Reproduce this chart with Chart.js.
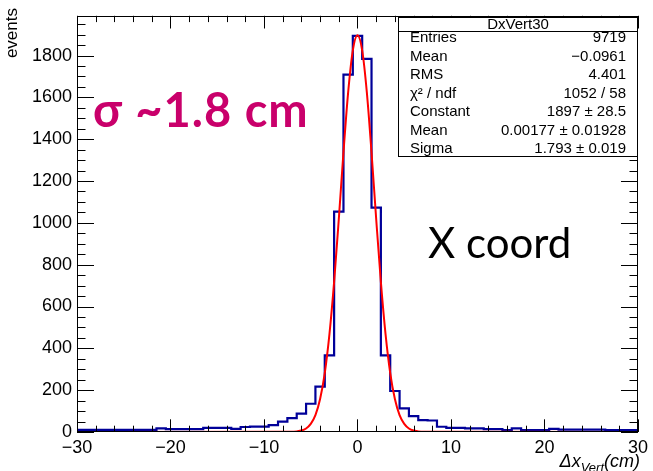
<!DOCTYPE html>
<html>
<head>
<meta charset="utf-8">
<script src="https://cdn.jsdelivr.net/npm/chart.js@4.4.0/dist/chart.umd.min.js"></script>
<style>
  html, body { margin: 0; padding: 0; background: #fff; }
  canvas { display: block; }
</style>
</head>
<body>
<canvas id="chart" width="653" height="471"></canvas>
<script>
// DxVert30 histogram, 1 cm bins centred on integers
const binCenters = Array.from({ length: 61 }, (_, i) => i - 30);
const binCounts = [
  10, 10, 10, 10, 10, 10, 10, 10, 10, 17,          // -30 .. -21
  14, 14, 14, 14, 20, 20, 20, 15, 24, 26,          // -20 .. -11
  26, 33, 50, 66, 88, 135, 217, 366, 1054, 1709,   // -10 .. -1
  1894,                                            // 0
  1784, 1073, 366, 196, 113, 76, 57, 55, 25, 20,   // 1 .. 10
  20, 17, 17, 14, 14, 9, 17, 9, 9, 9,              // 11 .. 20
  15, 11, 11, 11, 11, 11, 9, 9, 9, 9               // 21 .. 30
];

// gaussian fit curve
const fitX = [-30, -7, -6.5, -6, -5.5, -5, -4.5, -4, -3.5, -3, -2.5, -2, -1.5, -1, -0.5,
  0, 0.5, 1, 1.5, 2, 2.5, 3, 3.5, 4, 4.5, 5, 5.5, 6, 6.5, 7, 30];
const fitY = [0, 1, 3, 7, 17, 39, 81, 158, 282, 468, 718, 1018, 1337, 1624, 1825,
  1897, 1825, 1624, 1337, 1018, 718, 468, 282, 158, 81, 39, 17, 7, 3, 1, 0];

// axes
const xTicks = [-30, -20, -10, 0, 10, 20, 30];
const yTicks = [0, 200, 400, 600, 800, 1000, 1200, 1400, 1600, 1800];
const xMinorStep = 2;
const yMinorStep = 50;
const yMax = 1990;

// stats box
const statsTitle = 'DxVert30';
const statLabels = ['Entries', 'Mean', 'RMS', 'χ² / ndf', 'Constant', 'Mean', 'Sigma'];
const statValues = ['9719', '−0.0961', '4.401', '1052 / 58', '1897 ± 28.5', '0.00177 ± 0.01928', '1.793 ± 0.019'];

const rootFont = '"Liberation Sans", Arial, Helvetica, sans-serif';

function fmtTick(v) {
  return v < 0 ? '−' + Math.abs(v) : String(v);
}

// ROOT style frame with inward ticks on all four sides
const rootFrame = {
  id: 'rootFrame',
  afterDatasetsDraw(chart) {
    const { ctx, chartArea: a, scales: { x, y } } = chart;
    ctx.save();
    ctx.strokeStyle = '#000';
    ctx.lineWidth = 1;
    ctx.beginPath();
    for (let v = x.min; v <= x.max + 1e-9; v += xMinorStep) {
      const px = Math.round(x.getPixelForValue(v)) + 0.5;
      const len = Math.abs(v % 10) < 1e-9 ? 12.7 : 6.3;
      ctx.moveTo(px, a.bottom); ctx.lineTo(px, a.bottom - len);
      ctx.moveTo(px, a.top); ctx.lineTo(px, a.top + len);
    }
    for (let v = 0; v <= y.max + 1e-9; v += yMinorStep) {
      const py = Math.round(y.getPixelForValue(v)) + 0.5;
      const len = v % 200 === 0 ? 17 : 8.5;
      ctx.moveTo(a.left, py); ctx.lineTo(a.left + len, py);
      ctx.moveTo(a.right, py); ctx.lineTo(a.right - len, py);
    }
    ctx.stroke();
    ctx.strokeRect(Math.round(a.left) + 0.5, Math.round(a.top) + 0.5,
      Math.round(a.width) - 1, Math.round(a.height) - 1);
    ctx.restore();
  },
  afterDraw(chart) {
    const { ctx, chartArea: a } = chart;
    ctx.save();

    // stats box
    const bx = 398.5, by = 17.5, bw = 239, bh = 139;
    ctx.fillStyle = '#fff';
    ctx.fillRect(bx, by, bw, bh);
    ctx.strokeStyle = '#000';
    ctx.lineWidth = 1;
    ctx.strokeRect(bx, by, bw, bh);
    ctx.beginPath();
    ctx.moveTo(bx, 31.5); ctx.lineTo(bx + bw, 31.5);
    ctx.stroke();
    ctx.fillStyle = '#000';
    ctx.font = '15px ' + rootFont;
    ctx.textBaseline = 'middle';
    ctx.textAlign = 'center';
    ctx.fillText(statsTitle, bx + bw / 2, 24.5);
    statLabels.forEach((lab, i) => {
      const ry = 38 + 18.5 * i;
      ctx.textAlign = 'left';
      ctx.fillText(lab, 410, ry);
      ctx.textAlign = 'right';
      ctx.fillText(statValues[i], 626, ry);
    });

    // y axis title
    ctx.save();
    ctx.translate(12, 8);
    ctx.rotate(-Math.PI / 2);
    ctx.textAlign = 'right';
    ctx.textBaseline = 'middle';
    ctx.font = '17px ' + rootFont;
    ctx.fillText('events', 0, 0);
    ctx.restore();

    // x axis title with subscript
    const parts = [
      { t: 'Δx', f: 'italic 18px ' + rootFont, dy: 0 },
      { t: 'Vert', f: 'italic 13px ' + rootFont, dy: 5 },
      { t: '(cm)', f: 'italic 18px ' + rootFont, dy: 0 }
    ];
    let w = 0;
    parts.forEach(p => { ctx.font = p.f; w += ctx.measureText(p.t).width; });
    let cx = a.right + 2 - w;
    ctx.textAlign = 'left';
    ctx.textBaseline = 'alphabetic';
    parts.forEach(p => {
      ctx.font = p.f;
      ctx.fillText(p.t, cx, 467 + p.dy);
      cx += ctx.measureText(p.t).width;
    });

    // annotations
    ctx.fillStyle = '#c9006b';
    ctx.font = 'bold 47px Lato, "Open Sans", sans-serif';
    ctx.letterSpacing = '1px';
    ctx.textBaseline = 'alphabetic';
    ctx.fillText('σ ~1.8 cm', 93, 127);
    ctx.letterSpacing = '0px';
    ctx.fillStyle = '#000';
    ctx.font = '42px Lato, "Open Sans", sans-serif';
    ctx.fillText('X coord', 428, 258);

    ctx.restore();
  }
};

new Chart(document.getElementById('chart'), {
  type: 'line',
  data: {
    datasets: [
      {
        label: 'fit',
        data: fitX.map((v, i) => ({ x: v, y: fitY[i] })),
        borderColor: '#ff0000',
        borderWidth: 2,
        pointRadius: 0,
        cubicInterpolationMode: 'monotone',
        fill: false
      },
      {
        label: 'DxVert30',
        data: binCenters.map((v, i) => ({ x: v, y: binCounts[i] })),
        borderColor: '#000099',
        borderWidth: 2.2,
        pointRadius: 0,
        stepped: 'middle',
        fill: false
      }
    ]
  },
  options: {
    responsive: false,
    animation: false,
    events: [],
    layout: { padding: { top: 9, right: 10, left: 0, bottom: 0 } },
    plugins: {
      legend: { display: false },
      tooltip: { enabled: false }
    },
    scales: {
      x: {
        type: 'linear',
        min: -30,
        max: 30,
        grid: { display: false, drawTicks: false },
        border: { display: false },
        afterBuildTicks: s => { s.ticks = xTicks.map(v => ({ value: v })); },
        afterFit: s => { s.height = 39; },
        ticks: {
          autoSkip: false,
          maxRotation: 0,
          padding: 5,
          color: '#000',
          font: { family: rootFont, size: 18 },
          callback: v => fmtTick(v)
        }
      },
      y: {
        min: 0,
        max: yMax,
        grid: { display: false, drawTicks: false },
        border: { display: false },
        afterBuildTicks: s => { s.ticks = yTicks.map(v => ({ value: v })); },
        afterFit: s => { s.width = 77; },
        ticks: {
          padding: 5,
          color: '#000',
          font: { family: rootFont, size: 18 },
          callback: v => String(v)
        }
      }
    }
  },
  plugins: [rootFrame]
});
</script>
</body>
</html>
